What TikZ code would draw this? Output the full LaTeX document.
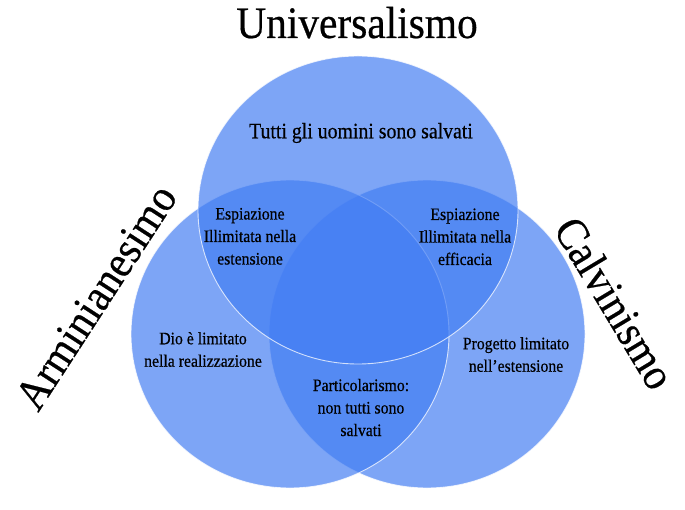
\documentclass[tikz,border=0pt]{standalone}
\usepackage{fontspec}
\setmainfont{Liberation Serif}[FakeBold=0.5]
\usepackage{graphicx}
\definecolor{venn}{RGB}{67,126,243}
\newcommand{\nar}[1]{\scalebox{0.92}[1]{#1}}
\newcommand{\blk}[1]{\scalebox{0.9}[1]{\begin{tabular}{@{}c@{}}#1\end{tabular}}}
\begin{document}
\begin{tikzpicture}[x=1pt,y=-1pt,
  vennc/.style={fill=venn, fill opacity=0.69, draw=white, draw opacity=0.75, line width=0.9pt},
  bigl/.style={font=\fontsize{45}{50}\selectfont, inner sep=0pt, text=black},
  smallt/.style={font=\fontsize{17.5}{22.5}\selectfont, inner sep=0pt, text=black},
  topt/.style={font=\fontsize{22}{26}\selectfont, inner sep=0pt, text=black},
]
\useasboundingbox (0,0) rectangle (685,510);
\fill[white] (0,0) rectangle (685,510);
% circles
\coordinate (cT) at (358,210);
\coordinate (cL) at (290,334);
\coordinate (cR) at (427,334);
\path[vennc] (cR) ellipse [x radius=158pt, y radius=154pt];
\path[vennc] (cL) ellipse [x radius=159pt, y radius=154pt];
\path[vennc] (cT) ellipse [x radius=160pt, y radius=154pt];
% titles
\node[bigl, anchor=base] (uni) at (357,38) {\nar{Universalismo}};
\node[bigl, rotate=57] (arm) at (96,297) {\nar{Arminianesimo}};
\node[bigl, rotate=-59] (cal) at (615,303) {\nar{Calvinismo}};
% texts
\node[topt] (tutti) at (361,133) {\scalebox{0.9}[1]{Tutti gli uomini sono salvati}};
\node[smallt] (espL) at (250,237.5) {\blk{Espiazione\\Illimitata nella\\estensione}};
\node[smallt] (espR) at (465,238) {\blk{Espiazione\\Illimitata nella\\efficacia}};
\node[smallt] (dio) at (203,351) {\blk{Dio è limitato\\nella realizzazione}};
\node[smallt] (prog) at (516,356) {\blk{Progetto limitato\\nell’estensione}};
\node[smallt] (part) at (361,409) {\blk{Particolarismo:\\non tutti sono\\salvati}};
\end{tikzpicture}
\end{document}
